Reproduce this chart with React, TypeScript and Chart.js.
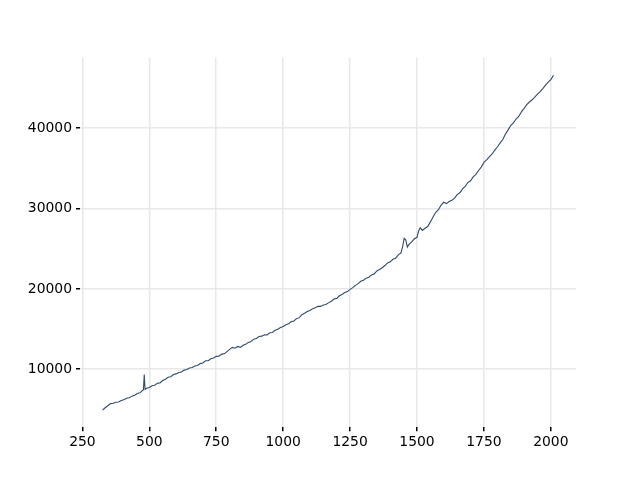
import React, { useEffect, useRef } from "react";
import { Chart, registerables } from "chart.js";

Chart.register(...registerables);

const xValues: number[] = [
  325, 335, 345, 355, 365, 375, 385, 395, 405, 415, 425, 435, 445, 455, 465, 475, 478, 481, 484, 490,
  500, 510, 520, 530, 540, 550, 560, 570, 580, 590, 600, 610, 620, 630, 640, 650, 660, 670, 680, 690,
  700, 710, 720, 730, 740, 750, 760, 770, 780, 790, 800, 810, 820, 830, 840, 850, 860, 870, 880, 890,
  900, 910, 920, 930, 940, 950, 960, 970, 980, 990, 1000, 1010, 1020, 1030, 1040, 1050, 1060, 1070, 1080, 1090,
  1100, 1110, 1120, 1130, 1140, 1150, 1160, 1170, 1180, 1190, 1200, 1210, 1220, 1230, 1240, 1250, 1260, 1270, 1280, 1290,
  1300, 1310, 1320, 1330, 1340, 1350, 1360, 1370, 1380, 1390, 1400, 1410, 1420, 1430, 1440, 1446, 1452, 1458, 1464, 1470,
  1480, 1490, 1500, 1506, 1512, 1520, 1530, 1540, 1550, 1560, 1570, 1580, 1590, 1600, 1610, 1620, 1630, 1640, 1650, 1660,
  1670, 1680, 1690, 1700, 1710, 1720, 1730, 1740, 1750, 1760, 1770, 1780, 1790, 1800, 1810, 1820, 1830, 1840, 1850, 1860,
  1870, 1880, 1890, 1900, 1910, 1920, 1930, 1940, 1950, 1960, 1970, 1980, 1990, 2000, 2010,
];

const yValues: number[] = [
  4900, 5200, 5450, 5720, 5760, 5900, 5930, 6120, 6200, 6400, 6450, 6650, 6760, 6980, 7060, 7380, 7420, 9350, 7500, 7640,
  7720, 7950, 8010, 8260, 8300, 8600, 8760, 9000, 9060, 9340, 9420, 9600, 9660, 9890, 9960, 10150, 10210, 10400, 10460, 10700,
  10780, 11050, 11060, 11300, 11400, 11600, 11620, 11880, 11920, 12200, 12480, 12720, 12620, 12840, 12720, 12990, 13120, 13340, 13460, 13740,
  13820, 14080, 14120, 14290, 14270, 14540, 14570, 14840, 14970, 15190, 15320, 15540, 15670, 15900, 16010, 16290, 16420, 16790, 16970, 17190,
  17320, 17540, 17660, 17840, 17820, 17990, 18060, 18290, 18460, 18740, 18820, 19140, 19310, 19540, 19660, 19940, 20160, 20440, 20660, 20940,
  21070, 21340, 21460, 21740, 21860, 22240, 22410, 22640, 22910, 23240, 23370, 23690, 23820, 24240, 24480, 25200, 26300, 26100, 25200, 25540,
  25860, 26240, 26420, 27200, 27600, 27280, 27540, 27760, 28340, 28960, 29540, 29860, 30440, 30780, 30620, 30880, 31040, 31260, 31740, 31960,
  32440, 32760, 33240, 33460, 33940, 34260, 34740, 35160, 35740, 36060, 36440, 36760, 37240, 37660, 38140, 38560, 39240, 39760, 40340, 40660,
  41140, 41460, 42040, 42460, 42940, 43260, 43540, 43860, 44240, 44560, 44940, 45360, 45740, 46060, 46600,
];

const xTicks: number[] = [250, 500, 750, 1000, 1250, 1500, 1750, 2000];
const yTicks: number[] = [10000, 20000, 30000, 40000];

export default function App() {
  const ref = useRef<HTMLCanvasElement | null>(null);

  useEffect(() => {
    document.body.style.margin = "0";
    if (!ref.current) return;
    const points = xValues.map((x, i) => ({ x, y: yValues[i] }));
    const font = { family: "DejaVu Sans", size: 13.9 };
    const chart = new Chart(ref.current, {
      type: "line",
      data: {
        datasets: [
          {
            data: points,
            borderColor: "#2e4a6d",
            borderWidth: 1.1,
            pointRadius: 0,
            tension: 0,
            fill: false,
          },
        ],
      },
      options: {
        responsive: false,
        animation: false,
        devicePixelRatio: 1,
        layout: { padding: { left: 0, right: 64, top: 57.6, bottom: 0 } },
        plugins: { legend: { display: false }, tooltip: { enabled: false } },
        scales: {
          x: {
            type: "linear",
            min: 241,
            max: 2094,
            afterBuildTicks: (s: any) => {
              s.ticks = xTicks.map((v) => ({ value: v }));
            },
            afterFit: (s: any) => {
              s.height = 52.8;
            },
            border: { display: false },
            grid: { color: "#e8e8e8", lineWidth: 1.5, tickColor: "#000", tickLength: 4 },
            ticks: { color: "#000", font, padding: 3, maxRotation: 0, autoSkip: false, callback: (v: any) => String(v) },
          },
          y: {
            type: "linear",
            min: 2785,
            max: 48790,
            afterBuildTicks: (s: any) => {
              s.ticks = yTicks.map((v) => ({ value: v }));
            },
            afterFit: (s: any) => {
              s.width = 80;
            },
            border: { display: false },
            grid: { color: "#e8e8e8", lineWidth: 1.5, tickColor: "#000", tickLength: 4 },
            ticks: { color: "#000", font, padding: 4, autoSkip: false, callback: (v: any) => String(v) },
          },
        },
      },
    });
    return () => chart.destroy();
  }, []);

  return (
    <div style={{ width: 640, height: 480, background: "#fff" }}>
      <canvas ref={ref} width={640} height={480} />
    </div>
  );
}
